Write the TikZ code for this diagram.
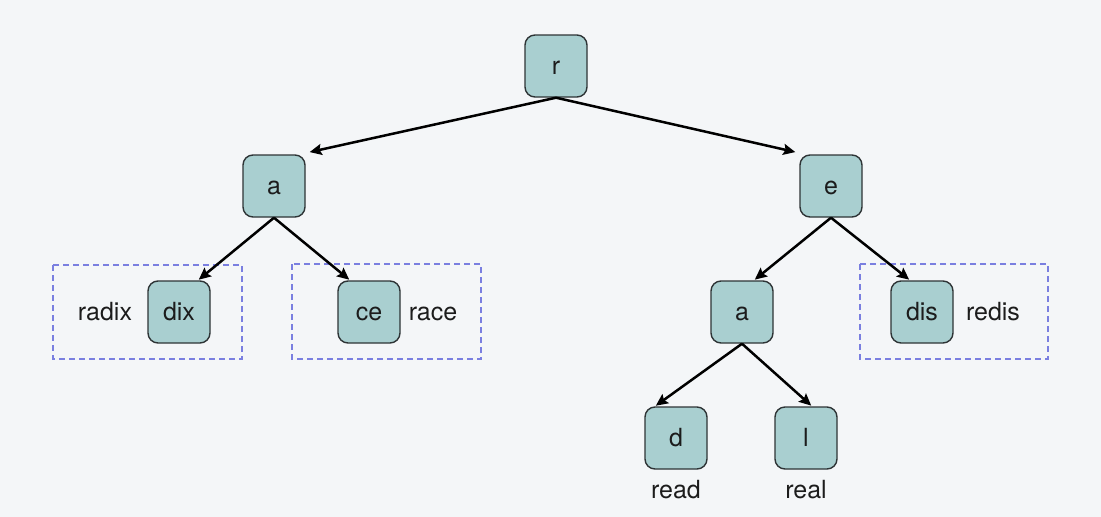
\documentclass[tikz,border=0pt]{standalone}
\usepackage{fontspec}
\setmainfont{TeX Gyre Heros}
\usetikzlibrary{arrows.meta}
\definecolor{bgcol}{HTML}{F4F6F8}
\definecolor{boxfill}{HTML}{A9CFD0}
\definecolor{boxline}{HTML}{2E3436}
\definecolor{groupline}{HTML}{7A7FE0}
\definecolor{txt}{HTML}{1C1C1C}
\tikzset{
  trienode/.style={draw=boxline, line width=1.4pt, fill=boxfill, rounded corners=10pt,
    minimum width=62pt, minimum height=62pt, inner sep=0pt,
    text height=17pt, text depth=0pt, text=txt, font=\fontsize{25}{30}\selectfont},
  wordlabel/.style={anchor=base, inner sep=0pt, text=txt, font=\fontsize{25}{30}\selectfont},
  groupbox/.style={draw=groupline, line width=2.6pt, dash pattern=on 6pt off 4pt},
  edge/.style={line width=2.5pt, -{Stealth[length=12pt,width=11pt,inset=2pt]}, shorten >=1pt}
}
\begin{document}
\begin{tikzpicture}[x=1pt,y=-1pt]
  % canvas
  \path[fill=bgcol] (0,0) rectangle (1101,517);

  % dashed groups around compressed leaves
  \draw[groupbox] (53,265) rectangle (242,359);
  \draw[groupbox] (292,264) rectangle (481,359);
  \draw[groupbox] (860,264) rectangle (1048,359);

  % trie nodes
  \node[trienode] (r)  at (556,66)    {r};
  \node[trienode] (a)  at (274,186)   {a};
  \node[trienode] (e)  at (831,186)   {e};
  \node[trienode] (dix) at (179,312)  {dix};
  \node[trienode] (ce) at (369,312)   {ce};
  \node[trienode] (ea) at (742,312)   {a};
  \node[trienode] (dis) at (922,312)  {dis};
  \node[trienode] (d)  at (676,438)   {d};
  \node[trienode] (l)  at (806,438)   {l};

  % stored words
  \node[wordlabel] (wradix) at (105,320) {radix};
  \node[wordlabel] (wrace)  at (433,320) {race};
  \node[wordlabel] (wredis) at (993,320) {redis};
  \node[wordlabel] (wread)  at (676,498) {read};
  \node[wordlabel] (wreal)  at (806,498) {real};

  % edges
  \draw[edge] (r.south) -- ([xshift=3pt,yshift=2pt]a.north east);
  \draw[edge] (r.south) -- ([xshift=-3pt,yshift=2pt]e.north west);
  \draw[edge] (a.south) -- ([xshift=19pt]dix.north);
  \draw[edge] (a.south) -- ([xshift=-19pt]ce.north);
  \draw[edge] (e.south) -- ([xshift=12pt]ea.north);
  \draw[edge] (e.south) -- ([xshift=-12pt]dis.north);
  \draw[edge] (ea.south) -- ([xshift=-21pt]d.north);
  \draw[edge] (ea.south) -- ([xshift=6pt]l.north);
\end{tikzpicture}
\end{document}
